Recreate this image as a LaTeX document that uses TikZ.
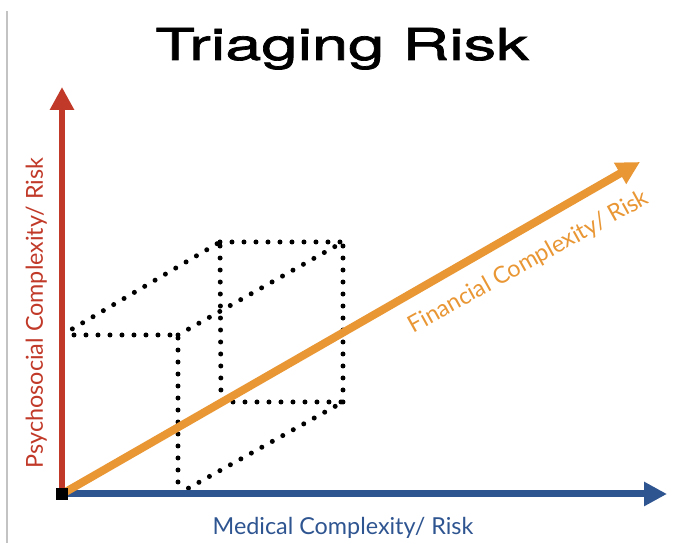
\documentclass[tikz,border=0pt]{standalone}
\usepackage{fontspec}
\usetikzlibrary{arrows.meta}

\newfontfamily\titlefont[FakeStretch=1.48,FakeBold=1.6]{TeX Gyre Heros}
\newfontfamily\axfont{Lato}

\definecolor{psyred}{RGB}{193,57,40}
\definecolor{medblue}{RGB}{47,85,145}
\definecolor{finorange}{RGB}{233,150,52}
\definecolor{framegray}{RGB}{195,195,195}

\begin{document}
\begin{tikzpicture}[
       x=0.02cm, y=0.02cm,
       arrowline/.style={
         line width=0.14cm,
         -{Triangle[length=0.46cm,width=0.46cm]}
       },
       dotline/.style={
         line width=0.1cm,
         line cap=round,
         dash pattern=on 0pt off 0.24cm
       },
       axlabel/.style={
         font={\axfont\fontsize{13.3}{16}\selectfont},
         inner sep=0pt,
         anchor=base
       },
       origin/.style={
         rectangle,
         fill=black,
         inner sep=0pt,
         minimum size=0.24cm
       }
     ]

       \useasboundingbox (0,0) rectangle (681,543);
       \draw [framegray, line width=0.03cm] (7,0) -- (7,532);

       \node (title) at (342,483) [anchor=base, font={\titlefont\fontsize{25}{30}\selectfont}]{Triaging Risk};

       % axes
       \coordinate (o) at (62,49);
       \coordinate (ytip) at (62,456);
       \coordinate (xtip) at (667,49);
       \coordinate (ztip) at (640,381);

       % box corners
       \coordinate (c1) at (62,208);
       \coordinate (c2) at (178,208);
       \coordinate (c3) at (178,49);
       \coordinate (c4) at (220,301);
       \coordinate (c5) at (343,301);
       \coordinate (c6) at (221,141);
       \coordinate (c7) at (343,141);

       \draw [dotline] (c1) -- (c2);
       \draw [dotline] (c3) -- (c2);
       \draw [dotline] (c1) -- (c4);
       \draw [dotline] (c2) -- (c5);
       \draw [dotline] (c4) -- (c5);
       \draw [dotline] (c6) -- (c4);
       \draw [dotline] (c7) -- (c5);
       \draw [dotline] (c6) -- (c7);
       \draw [dotline] (c3) -- (c7);

       \draw [arrowline, psyred] (o) -- (ytip);
       \draw [arrowline, medblue] (o) -- (xtip);
       \draw [arrowline, finorange, line width=0.16cm] (o) -- (ztip);

       \node (o0) at (o) [origin]{};

       \node (psy) at (43,230) [axlabel, psyred, rotate=90]{Psychosocial Complexity/ Risk};
       \node (med) at (343,8) [axlabel, medblue]{Medical Complexity/ Risk};
       \node (fin) at (532,275) [axlabel, finorange, rotate=29]{Financial Complexity/ Risk};

\end{tikzpicture}
\end{document}
